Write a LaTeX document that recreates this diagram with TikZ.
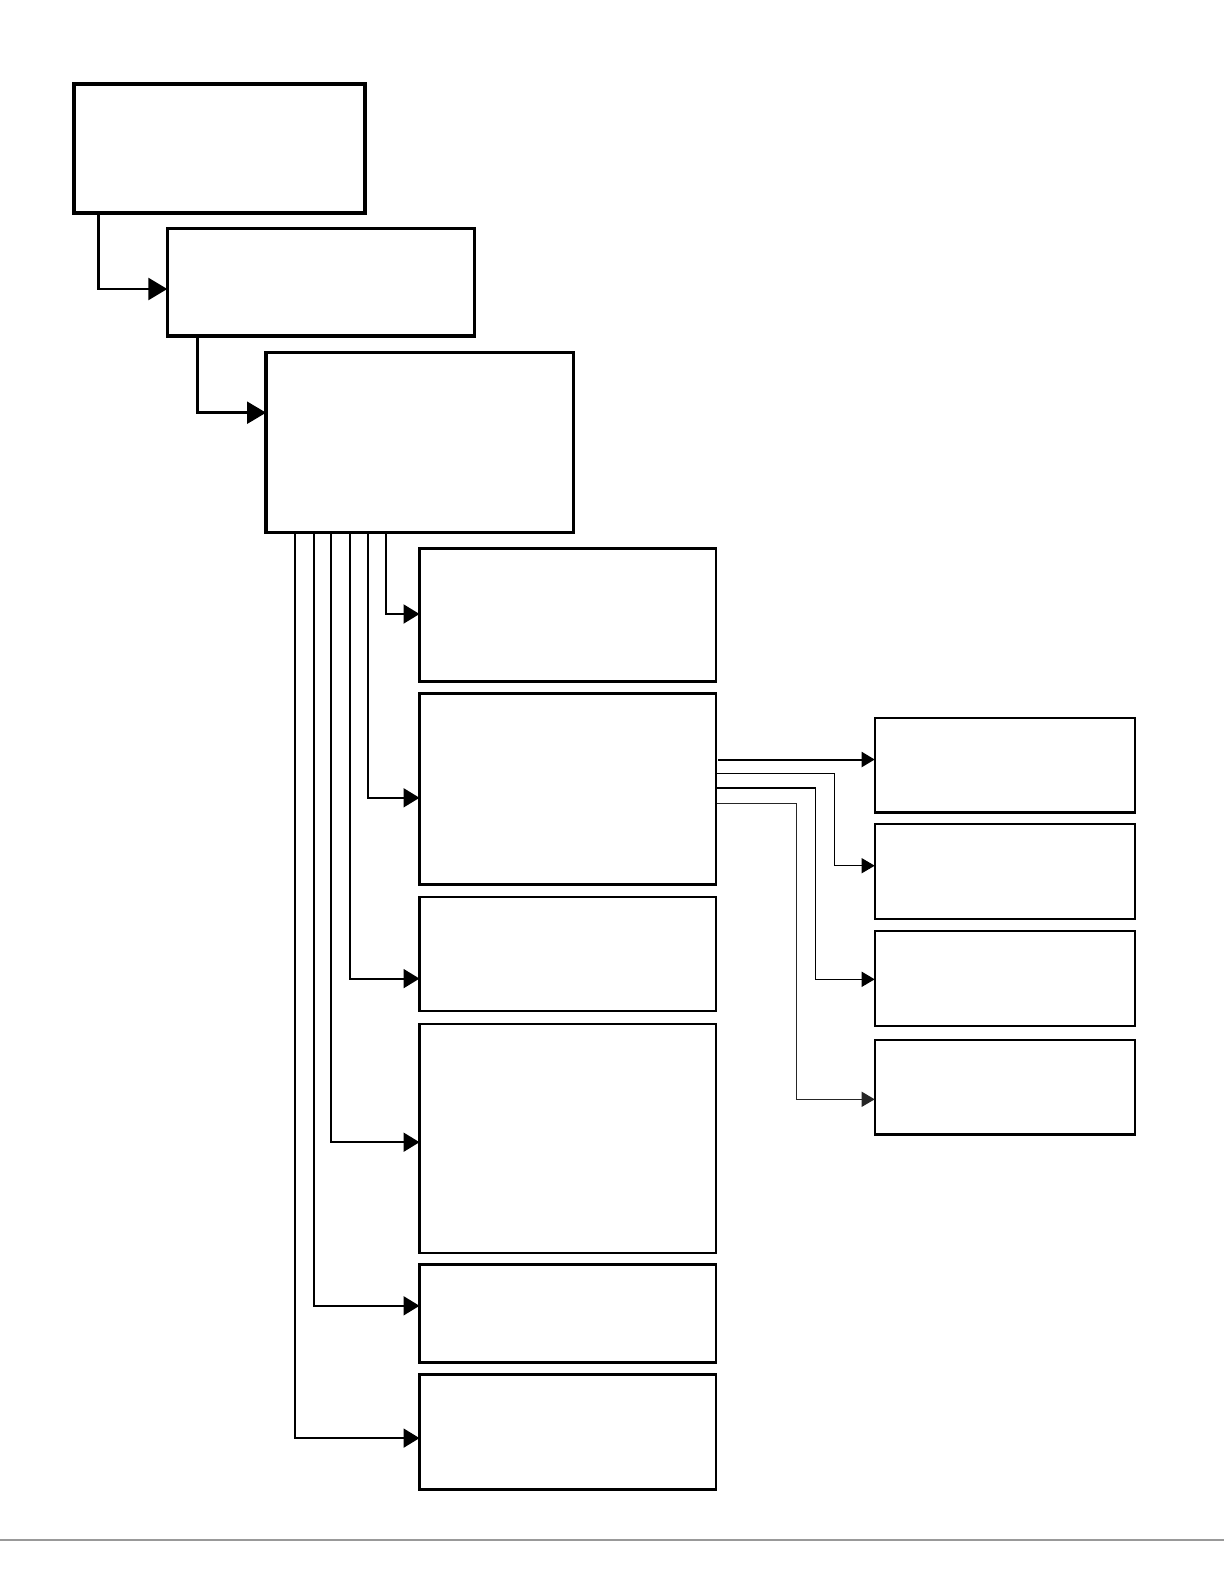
\documentclass[tikz,border=0pt]{standalone}
\usetikzlibrary{arrows.meta}
\begin{document}
\begin{tikzpicture}[x=0.5pt,y=-0.5pt,
  bigbox/.style={draw=black,line width=1.75pt,inner sep=0pt,outer sep=0pt,anchor=north west,fill=white},
  midbox/.style={draw=black,line width=1.1pt,inner sep=0pt,outer sep=0pt,anchor=north west,fill=white},
  topconn/.style={draw=black,line width=1.3pt,-{Triangle[length=9.5pt,width=11pt]}},
  midconn/.style={draw=black,line width=1pt,-{Triangle[length=8pt,width=9.5pt]}},
  rconn/.style={draw=black,-{Triangle[length=6.5pt,width=7.5pt]}}]
\useasboundingbox (0,0) rectangle (1224,1584);
% top chain
\node[bigbox,minimum width=145.5pt,minimum height=64.5pt] (box1) at (74,84) {};
\node[bigbox,minimum width=153.5pt,minimum height=53.75pt] (box2) at (167.3,228.7) {};
\node[bigbox,minimum width=153.65pt,minimum height=90pt] (box3) at (266,352.7) {};
% children column
\node[midbox,minimum width=148.25pt,minimum height=66.5pt] (c1) at (419.5,548.5) {};
\node[midbox,minimum width=148.25pt,minimum height=95.5pt] (c2) at (419.5,693.5) {};
\node[midbox,minimum width=148.25pt,minimum height=57pt] (c3) at (419.5,896.8) {};
\node[midbox,minimum width=148.25pt,minimum height=114.65pt] (c4) at (419.5,1024) {};
\node[midbox,minimum width=148.25pt,minimum height=49pt] (c5) at (419.5,1264.4) {};
\node[midbox,minimum width=148.25pt,minimum height=57.5pt] (c6) at (419.5,1374.5) {};
% right column
\node[midbox,minimum width=130.25pt,minimum height=47.1pt] (r1) at (874.7,718.3) {};
\node[midbox,minimum width=130.25pt,minimum height=47.5pt] (r2) at (874.7,824) {};
\node[midbox,minimum width=130.25pt,minimum height=47.5pt] (r3) at (874.7,931) {};
\node[midbox,minimum width=130.25pt,minimum height=47.25pt] (r4) at (874.7,1040) {};
% helper coordinates
\coordinate (k1) at (98.3,289);
\coordinate (k2) at (197.7,412.7);
\coordinate (v1) at (386,614);
\coordinate (v2) at (368,797.8);
\coordinate (v3) at (350,978.6);
\coordinate (v4) at (331,1142.2);
\coordinate (v5) at (314,1305.8);
\coordinate (v6) at (294.7,1438.1);
\coordinate (h1) at (718,759.5);
\coordinate (h2) at (834.3,773.3);
\coordinate (h3) at (815.3,788);
\coordinate (h4) at (796.3,803.5);
\coordinate (e2) at (834.3,865.7);
\coordinate (e3) at (815.3,979.3);
\coordinate (e4) at (796.3,1099.3);
% top connectors
\draw[topconn] (box1.south -| k1) |- (box2.west |- k1);
\draw[topconn] (box2.south -| k2) |- (box3.west |- k2);
% children connectors
\draw[midconn] (box3.south -| v1) |- (c1.west |- v1);
\draw[midconn] (box3.south -| v2) |- (c2.west |- v2);
\draw[midconn] (box3.south -| v3) |- (c3.west |- v3);
\draw[midconn] (box3.south -| v4) |- (c4.west |- v4);
\draw[midconn] (box3.south -| v5) |- (c5.west |- v5);
\draw[midconn] (box3.south -| v6) |- (c6.west |- v6);
% right connectors
\draw[rconn,line width=1pt] (h1) -- (r1.west |- h1);
\draw[rconn,line width=0.5pt] (c2.east |- h2) ++(1,0) -| (e2) -- (r2.west |- e2);
\draw[rconn,line width=0.75pt] (c2.east |- h3) ++(1,0) -| (e3) -- (r3.west |- e3);
\draw[rconn,line width=0.6pt,draw=black!85] (c2.east |- h4) ++(1,0) -| (e4) -- (r4.west |- e4);
% bottom rule
\draw[line width=0.75pt,draw=black!40] (0,1540) -- (1224,1540);
\end{tikzpicture}
\end{document}
